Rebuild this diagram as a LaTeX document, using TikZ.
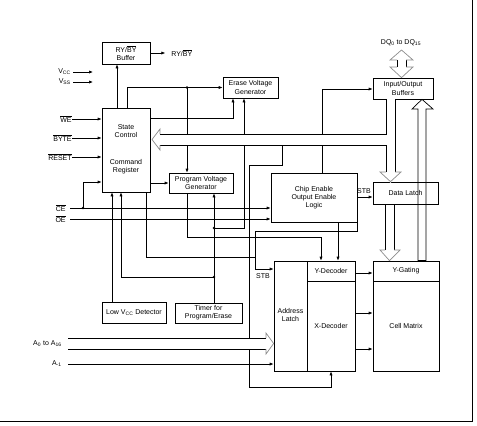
\documentclass[tikz,border=0pt]{standalone}
\usepackage{fontspec}
\setmainfont{Liberation Sans}
\usetikzlibrary{arrows.meta}
\newcommand{\ovl}[1]{$\overline{\mbox{#1}}$}

\begin{document}
\begin{tikzpicture}[x=1pt, y=-1pt, line width=0.7pt, every node/.style={font=\fontsize{7}{8.2}\selectfont, inner sep=0pt, align=center}, blk/.style 2 args={draw, rectangle, minimum width=#1pt, minimum height=#2pt}, arw/.style={-{Latex[length=4pt,width=3.2pt]}}, jdot/.style={circle, fill, minimum size=2.6pt}, headc/.style={draw=black!45}]
	\useasboundingbox (0,0) rectangle (477,426);
	% blocks
	\node[blk={48}{22}] (buf) at (126,53) {RY/\ovl{BY}\\Buffer}; \node[blk={48}{84}] (sc) at (126,150) {};
	\node (sctxt) at (126,131) {State\\Control}; \node (crtxt) at (126,167) {Command\\Register};
	\node[blk={55}{21}] (evg) at (250.5,87.5) {Erase Voltage\\Generator}; \node[blk={64}{20}] (pvg) at (201,183) {Program Voltage\\Generator};
	\node[blk={86}{49}] (cel) at (314,197.5) {Chip Enable\\Output Enable\\Logic}; \node[blk={60}{21}] (io) at (403,88.5) {Input/Output\\Buffers};
	\node[blk={65}{22}] (dl) at (405.5,193) {Data Latch};
	\node[blk={64}{21}] (lvd) at (134,312.5) {Low V\textsubscript{CC} Detector}; \node[blk={67}{20}] (tmr) at (208.5,313) {Timer for\\Program/Erase};
	\node[blk={81}{110}] (adl) at (314.5,316) {}; \draw (307,261) -- (307,371) (307,281) -- (355,281);
	\node (altxt) at (290.5,315) {Address\\Latch}; \node (ydec) at (331,271) {Y-Decoder}; \node (xdec) at (331,326) {X-Decoder};
	\node[blk={66}{110}] (cm) at (406,316) {}; \draw (373,281) -- (439,281);
	\node (ygt) at (406,271) {Y-Gating}; \node (cmtxt) at (406,326) {Cell Matrix};
	% inputs
	\foreach \y/\t/\n in {72/V\textsubscript{CC}/vcc, 82/V\textsubscript{SS}/vss} {\node[anchor=east] (\n) at (71,\y) {\t}; \draw[arw] ([xshift=2pt]\n.east) -- ++(20,0);}
	\foreach \y/\t/\n in {119/\ovl{WE}/we, 138/\ovl{BYTE}/byte, 157/\ovl{RESET}/rst} {\node[anchor=east] (\n) at (72,\y) {\t}; \draw[arw] (\n.east) -- (sc.west |- \n.east);}
	\foreach \y/\t/\n in {208/\ovl{CE}/ce, 219/\ovl{OE}/oe} {\node[anchor=east] (\n) at (66,\y) {\t}; \draw[arw] ([xshift=4pt]\n.east) -- (cel.west |- \n.east);}
	\node[jdot] (jce) at (83,208) {}; \draw[arw] (jce.center) |- (sc.west |- 0,182);
	\node[anchor=east] (am1) at (62,364) {A\textsubscript{-1}}; \draw[arw] ([xshift=6pt]am1.east) -- (adl.west |- 0,364);
	% control lines
	\draw[arw] (sc.north -| 117,0) -- (buf.south -| 117,0);
	\draw[arw] (buf.east) -- ++(15,0); \node[anchor=west] (ryby) at (171,53) {RY/\ovl{BY}};
	\draw[arw] (sc.north -| 127,0) |- (evg.west); \node[jdot] (jpv) at (187,87.5) {}; \draw[arw] (jpv.center) -- (pvg.north -| jpv);
	\draw[arw] (sc.east |- 0,118) -| (evg.south -| 233,0);
	\draw[arw] (sc.east |- pvg.west) -- (pvg.west);
	\draw[arw] (tmr.north -| 214,0) -- (pvg.south -| 214,0);
	\node[jdot] (jt1) at (214,228) {}; \node[jdot] (jt2) at (214,277) {};
	\draw[arw] (jt1.center) -| (evg.south -| 244,0); \draw[arw] (jt2.center) -| (sc.south -| 121,0);
	\draw[arw] (lvd.north -| 112,0) -- (sc.south -| 112,0);
	\draw (sc.south -| 146,0) |- (255,257);
	\draw[arw] (255,269) |- (357,231) |- (dl.west |- 0,197); \draw[arw] (255,245) |- (adl.west |- 0,269);
	\node (stba) at (263,276) {STB}; \node (stbb) at (364,191) {STB};
	\draw[arw] (pvg.south -| 187,0) |- (321,237) -- (adl.north -| 321,0);
	\draw[arw] (cel.south -| 338,0) -- (adl.north -| 338,0);
	\draw[arw] (cel.north -| 322,0) |- (io.west |- 0,89);
	\draw[arw] (282,145) |- (249,165) |- (331,387) -- (adl.south -| 331,0);
	\foreach \y in {273, 313, 349} {\draw[arw] (adl.east |- 0,\y) -- (cm.west |- 0,\y);}
	% buses
	\path[fill=white] (152,139.5) -- (160,129) -- (160,134) -- (386,134) -- (386,99) -- (395,99) -- (395,172) -- (401,172) -- (390.5,183) -- (380,172) -- (386,172) -- (386,145) -- (160,145) -- (160,150) -- cycle;
	\draw (160,134) -- (386,134) -- (386,99) (160,145) -- (386,145) -- (386,172) (395,99) -- (395,172);
	\draw[headc] (160,134) -- (160,129) -- (152,139.5) -- (160,150) -- (160,145) (386,172) -- (380,172) -- (dl.north -| 390.5,0) -- (401,172) -- (395,172);
	\draw (385,204) -- (385,250) (394,204) -- (394,250);
	\draw[headc] (385,250) -- (380,250) -- (cm.north -| 389.5,0) -- (400,250) -- (394,250);
	\draw (418,261) -- (418,109) -- (412,109) -- (io.south -| 422,0) -- (433,109) -- (426,109) -- (426,261); \draw[line width=2pt] (418,261) -- (426,261);
	\draw (397,60) -- (397,67) (406,60) -- (406,67);
	\draw[headc] (397,60) -- (390,60) -- (401.5,50) -- (413,60) -- (406,60) (397,67) -- (390,67) -- (io.north -| 401.5,0) -- (413,67) -- (406,67);
	\node (dq) at (401,43) {DQ\textsubscript{0} to DQ\textsubscript{15}};
	\path[fill=white] (68,338) -- (266,338) -- (266,333) -- (274,343.5) -- (266,354) -- (266,349) -- (68,349) -- cycle;
	\draw (68,338) -- (266,338) (68,349) -- (266,349); \draw[headc] (266,338) -- (266,333) -- (adl.west |- 0,343.5) -- (266,354) -- (266,349);
	\node[anchor=east] (abus) at (62,343.5) {A\textsubscript{0} to A\textsubscript{16}};
	% frame
	\draw (472,0) -- (472,421) -- (0,421);
\end{tikzpicture}
\end{document}
